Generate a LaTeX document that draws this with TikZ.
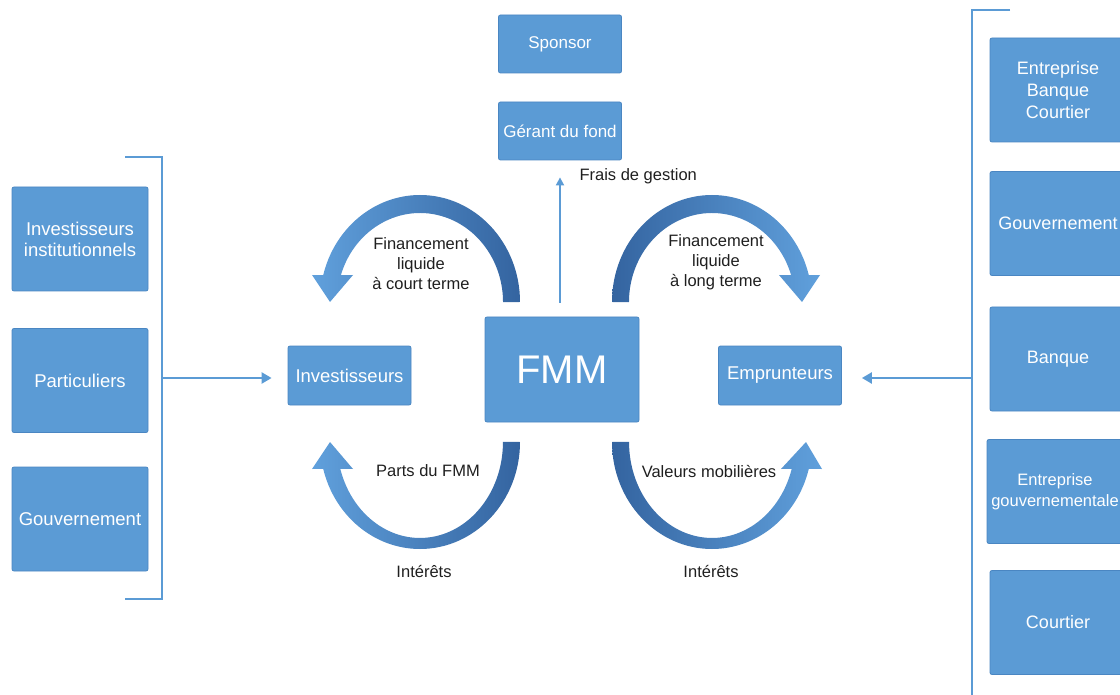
\documentclass[tikz,border=0pt]{standalone}
\usepackage{fontspec}
\setmainfont{Liberation Sans}
\usetikzlibrary{arrows.meta,positioning}
\definecolor{boxblue}{RGB}{91,155,213}
\definecolor{boxedge}{RGB}{74,134,194}
\definecolor{arcdark}{RGB}{52,100,160}
\definecolor{arclight}{RGB}{96,160,220}

\begin{document}
\begin{tikzpicture}[x=1pt, y=-1pt,
        box/.style={rectangle, draw=boxedge, fill=boxblue, line width=0.8pt, rounded corners=2pt, text=white, align=center, inner sep=0pt, font=\fontsize{18.5}{21}\selectfont},
        side/.style={box, minimum width=136pt, minimum height=104pt},
        small/.style={box, minimum width=123pt, minimum height=58pt, font=\fontsize{17}{20}\selectfont},
        actor/.style={box, minimum width=123pt, minimum height=59pt},
        lbl/.style={font=\fontsize{16.5}{20}\selectfont, align=center, text=black!88},
        bracket/.style={draw=boxblue, line width=2.6pt},
        flow/.style={draw=boxblue, line width=2.4pt, -{Triangle[width=11pt, length=10pt]}},
    ]
        \useasboundingbox (0,0) rectangle (1120,695);
        \clip (0,0) rectangle (1120,695);

        % Top - sponsor and fund manager
        \node[small] (sponsor) at (560,44) {Sponsor};
        \node[small] (gerant) at (560,131) {Gérant du fond};

        % Centre
        \node[box, minimum width=154pt, minimum height=105pt, font=\fontsize{40}{44}\selectfont] (fmm) at (562,369.5) {FMM};
        \node[actor] (invest) at (349.5,375.5) {Investisseurs};
        \node[actor] (emprunt) at (780,375.5) {Emprunteurs};

        % Left side - investors
        \node[side] (inst) at (80,239) {Investisseurs\\institutionnels};
        \node[side] (partic) at (80,380.5) {Particuliers};
        \node[side] (gouv_l) at (80,519) {Gouvernement};
        \draw[bracket] (125,157) -- (162,157) -- (162,599) -- (125,599);
        \coordinate (left_br) at (162,378);
        \draw[flow, shorten >=16pt] (left_br) -- (left_br -| invest.west);

        % Right side - borrowers
        \node[side, font=\fontsize{18}{22}\selectfont] (ebc) at (1058,90) {Entreprise\\Banque\\Courtier};
        \node[side, font=\fontsize{18}{22}\selectfont] (gouv_r) at (1058,223.5) {Gouvernement};
        \node[side, font=\fontsize{18}{22}\selectfont] (banque) at (1058,359) {Banque};
        \node[side, font=\fontsize{16.5}{21}\selectfont] (entgouv) at (1055,491.5) {Entreprise\\gouvernementale};
        \node[side, font=\fontsize{18}{22}\selectfont] (courtier) at (1058,622.5) {Courtier};
        \draw[bracket] (1010,10) -- (972,10) -- (972,700);
        \coordinate (right_br) at (972,378);
        \draw[flow, shorten >=20pt] (right_br) -- (right_br -| emprunt.east);

        % Management fees
        \draw[flow, line width=1.8pt, -{Triangle[width=8pt, length=8pt]}, shorten <=14pt, shorten >=17pt] (gerant.south |- fmm.north) -- (gerant.south);
        \node[lbl, anchor=west] (frais) at (576,176) {Frais de gestion};

        % Curved flows
        \shade[left color=arclight, right color=arcdark]
            (520,302) arc[start angle=0, end angle=-165.4, x radius=100, y radius=107]
            -- (312,275) -- (330,302) -- (353,275)
            -- (340.9,275.1) arc[start angle=-162.4, end angle=0, x radius=83, y radius=89] -- cycle;
        \shade[left color=arcdark, right color=arclight]
            (612,302) arc[start angle=180, end angle=345.4, x radius=100, y radius=107]
            -- (820,275) -- (802,302) -- (779,275)
            -- (791.1,275.1) arc[start angle=342.4, end angle=180, x radius=83, y radius=89] -- cycle;
        \shade[left color=arclight, right color=arcdark]
            (520,442) arc[start angle=0, end angle=165.4, x radius=100, y radius=107]
            -- (312,469) -- (330,442) -- (353,469)
            -- (340.3,468.9) arc[start angle=163.7, end angle=0, x radius=83, y radius=96] -- cycle;
        \shade[left color=arcdark, right color=arclight]
            (612,442) arc[start angle=180, end angle=14.6, x radius=100, y radius=107]
            -- (822,469) -- (806,442) -- (781,469)
            -- (791.7,468.9) arc[start angle=16.3, end angle=180, x radius=83, y radius=96] -- cycle;

        % Flow labels
        \node[lbl] (court) at (421,264) {Financement\\liquide\\à court terme};
        \node[lbl] (long) at (716,262) {Financement\\liquide\\à long terme};
        \node[lbl] (parts) at (428,471) {Parts du FMM};
        \node[lbl] (valeurs) at (709,472) {Valeurs mobilières};
        \node[lbl] (int_l) at (424,572) {Intérêts};
        \node[lbl] (int_r) at (711,572) {Intérêts};
    \end{tikzpicture}
\end{document}
